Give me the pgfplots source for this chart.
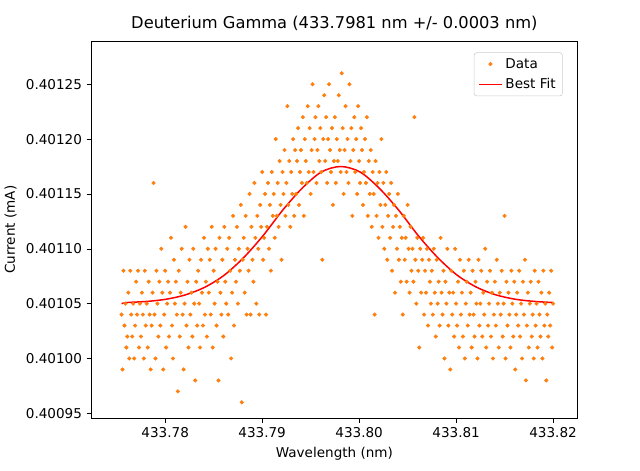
\documentclass[border=0pt]{standalone}
\usepackage{pgfplots}
\pgfplotsset{compat=1.18}
\usepackage{pgfplotstable}
\usepackage{fontspec}
\setmainfont{DejaVu Sans}
\definecolor{mplorange}{HTML}{FF7F0E}
\pgfplotstableread{
y
104
99
108
103
105
101
102
106
100
108
104
102
105
100
103
107
104
108
101
105
102
106
104
100
108
103
105
101
107
104
99
103
106
116
104
100
108
105
102
107
103
110
106
99
104
108
101
105
107
102
106
111
103
100
109
105
107
104
97
108
102
106
110
104
99
105
112
103
107
101
109
104
106
102
110
105
98
107
103
108
105
101
109
106
103
111
104
107
102
110
106
109
104
112
101
108
105
110
103
107
98
111
106
104
109
102
112
107
105
110
104
111
108
100
106
113
103
109
107
112
105
110
108
114
96
109
111
106
113
104
110
108
115
104
112
109
107
116
111
105
113
110
104
114
112
117
109
111
115
104
112
116
110
114
108
117
113
115
111
120
113
116
112
118
114
109
117
115
119
113
116
123
114
118
112
117
115
120
113
119
115
118
121
114
117
119
116
122
113
120
118
116
123
117
121
115
119
125
117
120
122
116
119
123
118
121
117
109
120
124
118
122
116
120
125
119
117
121
114
118
122
116
120
118
124
119
117
126
121
115
119
123
117
120
116
125
118
121
113
119
122
117
120
115
123
118
116
121
119
114
117
120
116
122
113
118
115
119
112
117
115
104
118
113
116
111
117
114
120
112
116
110
114
117
109
113
115
111
116
108
112
114
106
113
110
115
109
112
107
111
104
113
109
111
107
114
110
106
112
108
110
107
122
109
105
111
108
101
110
106
109
111
104
108
106
110
103
109
107
105
108
104
110
106
102
109
105
107
103
111
106
104
108
100
107
105
110
103
106
99
108
104
106
102
110
105
103
107
101
109
104
106
102
108
100
105
107
103
109
104
106
101
108
104
102
107
105
100
109
103
105
108
102
106
104
110
101
107
103
105
108
102
106
100
104
107
103
109
105
101
106
104
108
102
105
113
100
107
103
106
104
101
108
105
102
107
99
104
106
103
108
102
105
100
107
104
109
98
103
106
101
105
107
102
104
100
108
103
105
101
107
104
102
106
100
108
103
105
98
104
102
106
103
108
101
105
}\datatab
\begin{document}
\begin{tikzpicture}
\begin{axis}[
  scale only axis, width=4.96in, height=3.85in,
  xmin=24, xmax=525, ymin=94.55, ymax=128.93,
  xtick={100,200,300,400,500},
  xticklabels={433.78,433.79,433.80,433.81,433.82},
  ytick={95,100,105,110,115,120,125},
  yticklabels={0.40095,0.40100,0.40105,0.40110,0.40115,0.40120,0.40125},
  tick style={black}, tick align=outside,
  major tick length=3.5pt,
  xtick pos=bottom, ytick pos=left,
  ticklabel style={font=\fontsize{10}{12}\selectfont},
  xlabel={Wavelength (nm)}, ylabel={Current (mA)},
  label style={font=\fontsize{10}{12}\selectfont},
  title={Deuterium Gamma (433.7981 nm +/- 0.0003 nm)},
  title style={font=\fontsize{12}{14}\selectfont, yshift=-2pt},
  legend pos=north east,
  legend style={font=\fontsize{10}{12}\selectfont, draw=black!20, rounded corners=2pt, row sep=2pt},
  legend cell align=left,
]
\addplot[mplorange, only marks, mark=*, mark size=1.3pt, mark options={draw=mplorange, fill=mplorange}]
  table[x expr=\coordindex+55, y=y] {\datatab};
\addlegendentry{Data}
\addplot[red, line width=1.1pt, smooth] coordinates {
(55,105.0)(61,105.1)(81,105.2)(101,105.4)(121,105.8)(141,106.5)(161,107.6)(181,109.2)
(201,111.2)(221,113.5)(241,115.5)(261,117.0)(281,117.5)(301,117.0)(321,115.5)(341,113.5)
(361,111.2)(381,109.2)(401,107.6)(421,106.5)(441,105.8)(461,105.4)(481,105.2)(500,105.1)};
\addlegendentry{Best Fit}
\end{axis}
\path (current axis.south west) ++(-0.8in,-0.53in) rectangle ++(6.4in,4.8in);
\end{tikzpicture}
\end{document}
